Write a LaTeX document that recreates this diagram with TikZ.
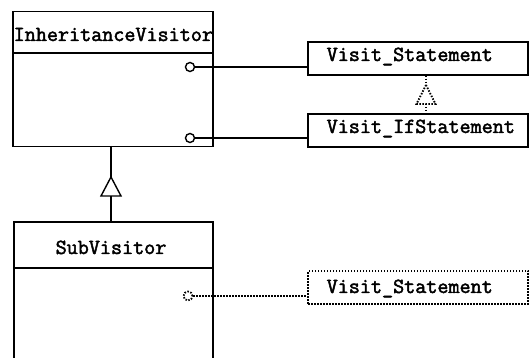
\documentclass[tikz,border=0pt]{standalone}
\usepackage{fontspec}
\newfontfamily\classfont{Latin Modern Mono}[FakeBold=2.2]
\usetikzlibrary{calc}
\begin{document}
\begin{tikzpicture}[x=1pt,y=-1pt,
  line width=1.4pt,
  lbl/.style={font=\fontsize{21.5}{25}\classfont, inner sep=0pt, anchor=base west},
  opbox/.style={draw, line width=1.4pt, minimum width=220pt, minimum height=33pt, inner sep=0pt},
  dotline/.style={line width=1.8pt, dash pattern=on 1.5pt off 1.5pt},
  port/.style={circle, draw, fill=white, line width=1.4pt, minimum size=9pt, inner sep=0pt},
]
\useasboundingbox (0,0) rectangle (531,358);
\begin{scope}
\clip (0,0) rectangle (531,358);

% class InheritanceVisitor
\node[draw, minimum width=200pt, minimum height=135pt, inner sep=0pt] (iv) at (113,79) {};
\draw (iv.west |- 0,53) -- (iv.east |- 0,53);
\node[lbl] (ivname) at (13,41) {InheritanceVisitor};

% class SubVisitor (continues past the lower edge)
\coordinate (svtl) at (14,222);
\coordinate (svtr) at (213,222);
\draw (14,370) -- (svtl) -- (svtr) -- (213,370);
\draw (14,268) -- (213,268);
\node[lbl, anchor=base] (svname) at (111,254) {SubVisitor};

% operation boxes
\node[opbox] (st) at (418,58.5) {};
\node[lbl] at (326,61) {Visit\_Statement};
\node[opbox] (ifst) at (418,130.5) {};
\node[lbl] at (326,133) {Visit\_IfStatement};
\node[opbox, dotline] (sst) at (418,287.5) {};
\node[lbl] at (326,293) {Visit\_Statement};

% ports and links
\node[port] (p1) at (190,67) {};
\node[port] (p2) at (190,138) {};
\node[port, dotline] (p3) at (188,296) {};
\draw (p1.east) -- (st.west |- p1.east);
\draw (p2.east) -- (ifst.west |- p2.east);
\draw[dotline] (p3.east) -- (sst.west |- p3.east);

% generalisation SubVisitor -> InheritanceVisitor
\coordinate (gtip) at (111,177);
\draw (111,146) -- (gtip);
\draw (111,196) -- (111,222);
\draw (gtip) -- (101,196) -- (121,196) -- cycle;

% dotted generalisation Visit_IfStatement -> Visit_Statement
\coordinate (rtip) at (426,85);
\draw[dotline] (st.south -| rtip) -- (rtip);
\draw[dotline] (426,104) -- (ifst.north -| rtip);
\draw[dotline] (rtip) -- (416.5,104) -- (435.5,104) -- cycle;
\end{scope}
\end{tikzpicture}
\end{document}
